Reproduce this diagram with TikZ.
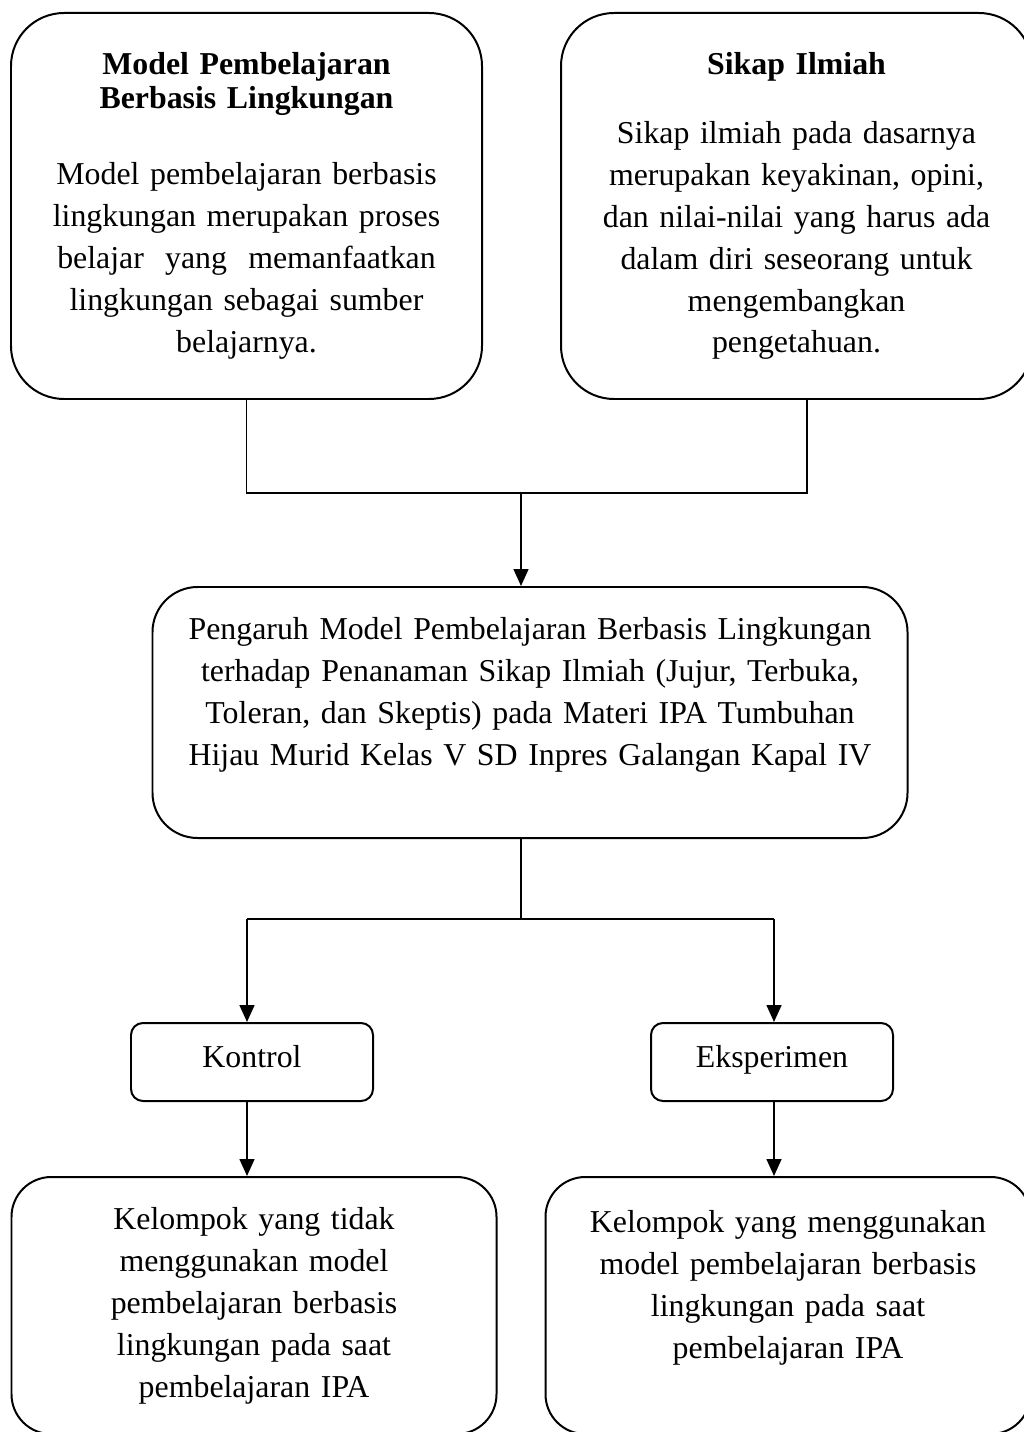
\documentclass[tikz,border=0pt]{standalone}
\usepackage{fontspec}
\setmainfont{Liberation Serif}
\usetikzlibrary{arrows.meta,positioning}
\setlength{\parindent}{0pt}
\newcommand{\upx}{0.3768pt}

\begin{document}
\begin{tikzpicture}[x=\upx,y=-\upx,>={Triangle[width=5.6pt,length=6.4pt]},line width=0.75pt,
                    box/.style={draw,align=center,inner sep=0pt,font=\fontsize{12}{15.8}\selectfont},
                    top box/.style={box,rounded corners=20pt,minimum width=471*\upx,minimum height=386*\upx,text width=440*\upx},
                    low box/.style={box,rounded corners=15pt,minimum width=485*\upx,minimum height=257*\upx,text width=440*\upx},
                    small box/.style={box,rounded corners=4.5pt,minimum width=242*\upx,minimum height=78*\upx,text height=7.5pt,text depth=3.7pt}]

\useasboundingbox (0,0) rectangle (1024,1432);

\node[top box] (mdl) at (246.5,206) {{\bfseries\fontsize{12}{12.8}\selectfont Model Pembelajaran\\Berbasis Lingkungan\par}\vspace{12.8pt}Model pembelajaran berbasis\\lingkungan merupakan proses\\belajar\ \ yang\ \ memanfaatkan\\lingkungan sebagai sumber\\belajarnya.};
\node[top box] (skp) at (796.5,206) {{\bfseries Sikap Ilmiah\par}\vspace{10.2pt}Sikap ilmiah pada dasarnya\\merupakan keyakinan, opini,\\dan nilai-nilai yang harus ada\\dalam diri seseorang untuk\\mengembangkan\\pengetahuan.};
\node[box,rounded corners=17pt,minimum width=755*\upx,minimum height=251*\upx,text width=720*\upx] (pgr) at (530,712.5) {Pengaruh Model Pembelajaran Berbasis Lingkungan\\terhadap Penanaman Sikap Ilmiah (Jujur, Terbuka,\\Toleran, dan Skeptis) pada Materi IPA Tumbuhan\\Hijau Murid Kelas V SD Inpres Galangan Kapal IV\\\mbox{}};
\node[small box] (ktr) at (252,1062) {Kontrol};
\node[small box] (eks) at (772,1062) {Eksperimen};
\node[low box] (kk) at (254,1305.5) {Kelompok yang tidak\\menggunakan model\\pembelajaran berbasis\\lingkungan pada saat\\pembelajaran IPA};
\node[low box] (ke) at (788,1305.5) {Kelompok yang menggunakan\\model pembelajaran berbasis\\lingkungan pada saat\\pembelajaran IPA\\\mbox{}};

\coordinate (ja) at (521,493);
\coordinate (jb) at (521,919);
\coordinate (jl) at (247,919);
\coordinate (jr) at (774,919);

\draw (mdl.south) |- (ja) -| ([xshift=10.5*\upx]skp.south);
\draw (pgr.south -| jb) -- (jb);
\draw (jl) -- (jr);
\path[->]
    (ja) edge (ja |- pgr.north)
    (jl) edge (jl |- ktr.north)
    (jr) edge (jr |- eks.north)
    (jl |- ktr.south) edge (jl |- kk.north)
    (jr |- eks.south) edge (jr |- ke.north);
\end{tikzpicture}
\end{document}
